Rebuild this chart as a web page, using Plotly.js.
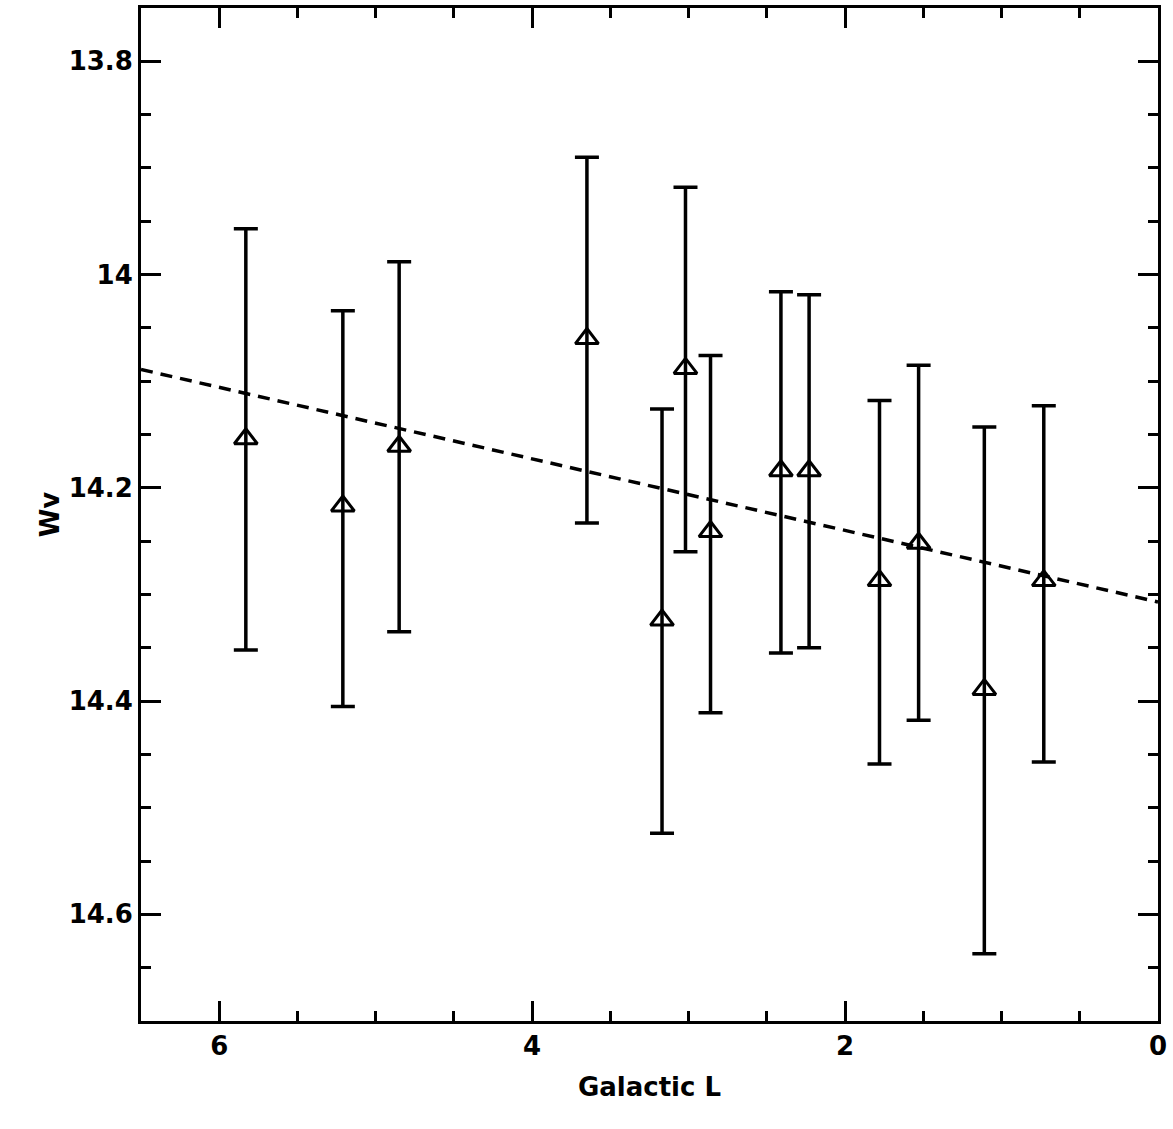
<!DOCTYPE html>
<html>
<head>
<meta charset="UTF-8">
<script src="https://cdn.plot.ly/plotly-3.0.1.min.js"></script>
<style>body{margin:0;background:#fff}</style>
</head>
<body>
<div id="chart" style="width:1173px;height:1129px"></div>
<script>
    // Galactic L, Wv and error bar halves
    let galL = [5.83, 5.21, 4.85, 3.65, 3.17, 3.02, 2.86, 2.41, 2.23, 1.78, 1.53, 1.11, 0.73];
    let wv = [14.154, 14.217, 14.161, 14.060, 14.324, 14.088, 14.241, 14.184, 14.184, 14.287, 14.252, 14.389, 14.287];
    let errUp = [0.197, 0.183, 0.173, 0.170, 0.198, 0.170, 0.165, 0.168, 0.165, 0.169, 0.167, 0.246, 0.164];
    let errDown = [0.198, 0.188, 0.174, 0.173, 0.200, 0.172, 0.170, 0.171, 0.166, 0.172, 0.166, 0.248, 0.170];
    let fitL = [6.5, 0];
    let fitW = [14.089, 14.307];
    let yTicks = [13.8, 14, 14.2, 14.4, 14.6];
    let yTickText = ['13.8', '14', '14.2', '14.4', '14.6'];

    let font = {family: 'DejaVu Sans', size: 26, color: '#000', weight: 'bold'};

    let points = {
        x: galL, y: wv, mode: 'markers', type: 'scatter',
        marker: {symbol: 'triangle-up-open', size: 20, color: '#000', line: {width: 3, color: '#000'}},
        error_y: {type: 'data', symmetric: false, array: errDown, arrayminus: errUp,
            color: '#000', thickness: 3.5, width: 12}
    };
    let fit = {
        x: fitL, y: fitW, mode: 'lines', type: 'scatter',
        line: {color: '#000', width: 3.5, dash: '12px,8px'}
    };

    let axisBase = {
        showgrid: false, zeroline: false, showline: true, mirror: 'ticks',
        linecolor: '#000', linewidth: 3, ticks: 'inside', ticklen: 20,
        tickwidth: 3, tickcolor: '#000', tickfont: font
    };

    Plotly.newPlot('chart', [fit, points], {
        width: 1173, height: 1129, showlegend: false,
        margin: {l: 141, r: 15, t: 8, b: 108},
        paper_bgcolor: '#fff', plot_bgcolor: '#fff',
        xaxis: Object.assign({}, axisBase, {
            range: [6.5, 0], dtick: 2, tick0: 0,
            minor: {dtick: 0.5, ticks: 'inside', ticklen: 10, tickwidth: 3, tickcolor: '#000'},
            title: {text: 'Galactic L', font: font, standoff: 18}
        }),
        yaxis: Object.assign({}, axisBase, {
            range: [14.7, 13.75], tickmode: 'array', tickvals: yTicks, ticktext: yTickText,
            minor: {tickmode: 'linear', dtick: 0.05, tick0: 13.8, ticks: 'inside', ticklen: 10, tickwidth: 3, tickcolor: '#000'},
            title: {text: 'Wv', font: font, standoff: 2}
        })
    }, {displayModeBar: false});
</script>
</body>
</html>
